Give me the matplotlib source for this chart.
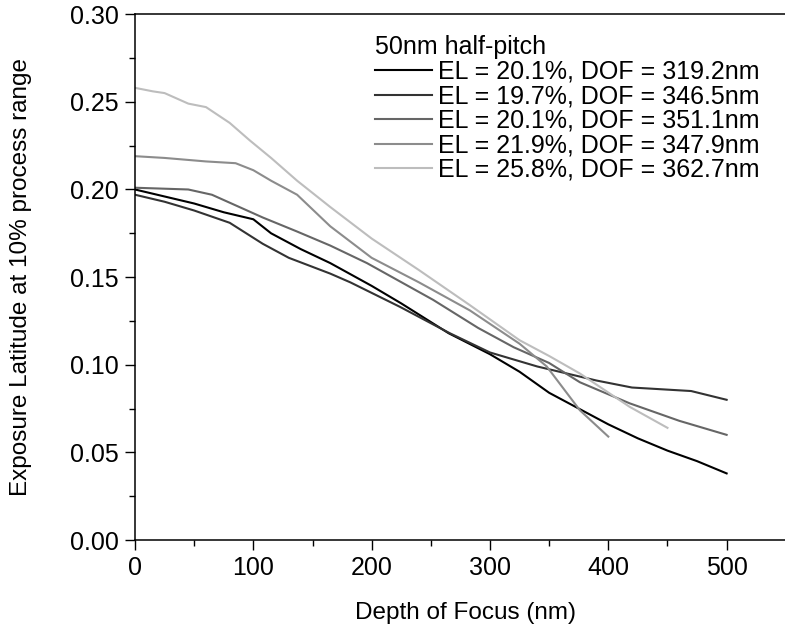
import matplotlib
matplotlib.use("Agg")
import matplotlib.pyplot as plt
from matplotlib.ticker import MultipleLocator

plt.rcParams['font.family'] = ['Liberation Sans', 'DejaVu Sans']

# curves (depth of focus nm, exposure latitude)
x1 = [0, 25, 50, 75, 100, 115, 140, 165, 200, 225, 265, 300, 325, 350, 375, 400, 425, 450, 475, 500]
y1 = [0.200, 0.196, 0.192, 0.187, 0.183, 0.175, 0.166, 0.158, 0.145, 0.135, 0.118, 0.106, 0.096, 0.084, 0.075, 0.066, 0.058, 0.051, 0.045, 0.038]

x2 = [0, 25, 50, 80, 108, 130, 165, 182, 224, 266, 300, 340, 390, 420, 470, 500]
y2 = [0.197, 0.193, 0.188, 0.181, 0.169, 0.161, 0.152, 0.147, 0.133, 0.118, 0.107, 0.099, 0.091, 0.087, 0.085, 0.080]

x3 = [0, 45, 65, 108, 137, 165, 196, 252, 290, 320, 350, 376, 418, 460, 500]
y3 = [0.201, 0.200, 0.197, 0.184, 0.176, 0.168, 0.158, 0.137, 0.121, 0.110, 0.101, 0.090, 0.078, 0.068, 0.060]

x4 = [0, 25, 60, 85, 100, 115, 137, 165, 200, 240, 283, 325, 348, 376, 400]
y4 = [0.219, 0.218, 0.216, 0.215, 0.211, 0.205, 0.197, 0.179, 0.161, 0.147, 0.131, 0.112, 0.099, 0.074, 0.059]

x5 = [0, 15, 25, 45, 60, 80, 97, 115, 137, 165, 200, 240, 283, 325, 350, 376, 418, 450]
y5 = [0.258, 0.256, 0.255, 0.249, 0.247, 0.238, 0.228, 0.218, 0.205, 0.190, 0.172, 0.154, 0.134, 0.114, 0.105, 0.095, 0.076, 0.064]

labels = ["EL = 20.1%, DOF = 319.2nm", "EL = 19.7%, DOF = 346.5nm", "EL = 20.1%, DOF = 351.1nm",
          "EL = 21.9%, DOF = 347.9nm", "EL = 25.8%, DOF = 362.7nm"]
colors = ["#000000", "#333333", "#666666", "#8c8c8c", "#bdbdbd"]

fig = plt.figure(figsize=(7.85, 6.35), dpi=100)
ax = fig.add_axes([0.172, 0.1496, 0.829, 0.828])

for xs, ys, lab, c in zip([x1, x2, x3, x4, x5], [y1, y2, y3, y4, y5], labels, colors):
    ax.plot(xs, ys, color=c, lw=1.5, label=lab)

ax.set_xlim(0, 550)
ax.set_ylim(0, 0.30)
ax.xaxis.set_major_locator(MultipleLocator(100))
ax.xaxis.set_minor_locator(MultipleLocator(50))
ax.yaxis.set_major_locator(MultipleLocator(0.05))
ax.yaxis.set_minor_locator(MultipleLocator(0.025))
ax.yaxis.set_major_formatter(plt.FormatStrFormatter('%.2f'))
ax.tick_params(which='both', direction='out', width=1.0, labelsize=18, top=False, right=False, pad=4)
ax.tick_params(which='major', length=7.5)
ax.tick_params(which='minor', length=4.5)
for s in ax.spines.values():
    s.set_linewidth(1.1)

ax.set_xlabel("Depth of Focus (nm)", fontsize=17.5)
ax.set_ylabel("Exposure Latitude at 10% process range", fontsize=17.5)
ax.xaxis.set_label_coords(0.508, -0.117)
ax.yaxis.set_label_coords(-0.158, 0.5)

leg = ax.legend(title="50nm half-pitch", loc='upper left', bbox_to_anchor=(0.368, 0.96),
                frameon=False, fontsize=18, title_fontsize=18, handlelength=2.3,
                handletextpad=0.22, labelspacing=0.02, borderaxespad=0, borderpad=0,
                alignment='left')

fig.savefig("out.png", dpi=100)
